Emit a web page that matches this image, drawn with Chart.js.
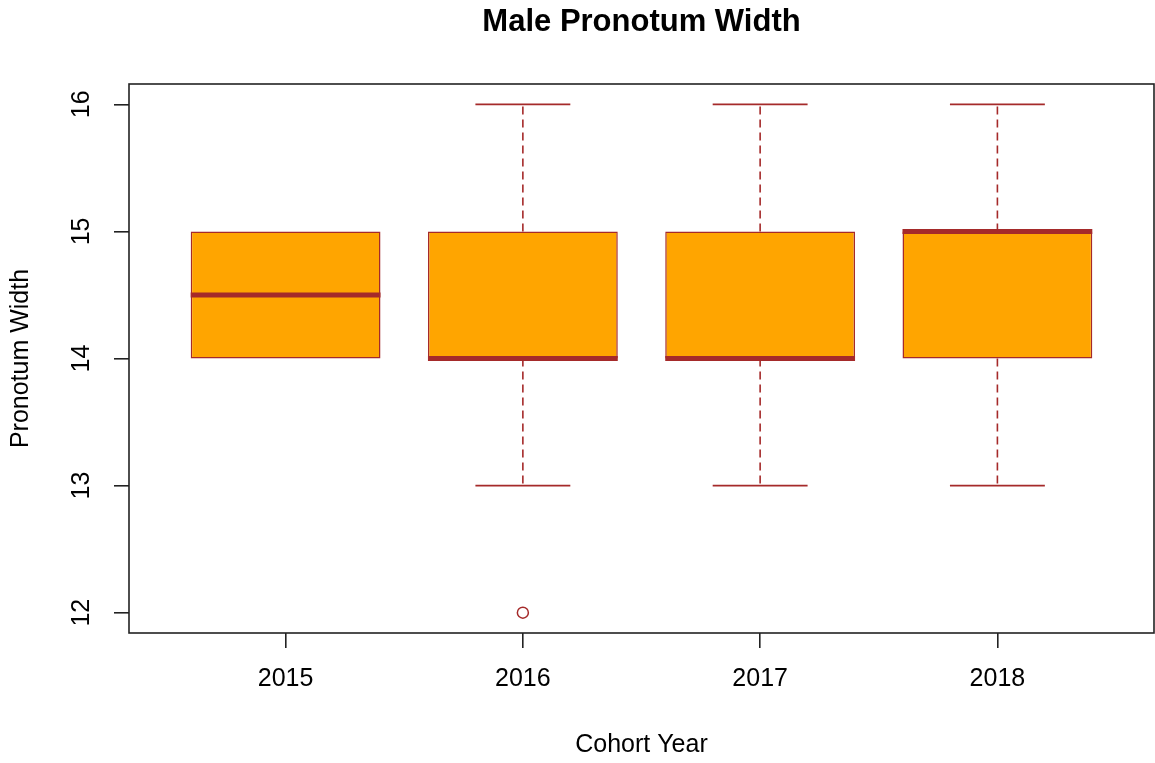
<!DOCTYPE html>
<html>
<head>
<meta charset="utf-8">
<title>Male Pronotum Width</title>
<script src="https://cdn.jsdelivr.net/npm/chart.js@4/dist/chart.umd.min.js"></script>
<style>
  html, body { margin: 0; padding: 0; background: #ffffff; }
  canvas { display: block; }
</style>
</head>
<body>
<canvas id="chart" width="1155" height="763"></canvas>
<script>
// Five-number summaries of male pronotum width per cohort year
const years = ['2015', '2016', '2017', '2018'];
const whiskerLow  = [14, 13, 13, 13];
const lowerQuart  = [14, 14, 14, 14];
const medians     = [14.5, 14, 14, 15];
const upperQuart  = [15, 15, 15, 15];
const whiskerHigh = [15, 16, 16, 16];

// Points beyond the whiskers
const outlierYears  = ['2016'];
const outlierValues = [12];

const yTicks = [12, 13, 14, 15, 16];

const BROWN = '#A52A2A';
const ORANGE = '#FFA500';
const FONT = "'Liberation Sans', Arial, Helvetica, sans-serif";

function boxGeometry(chart, i) {
  const bar = chart.getDatasetMeta(0).data[i];
  return { cx: bar.x, half: bar.width / 2, staple: bar.width / 4 };
}

// Dashed whiskers and staples go under the boxes, medians over them
const boxExtras = {
  id: 'boxExtras',
  beforeDatasetsDraw(chart) {
    const ctx = chart.ctx;
    const ys = chart.scales.y;
    ctx.save();
    ctx.strokeStyle = BROWN;
    ctx.lineWidth = 1.6;
    ctx.lineCap = 'butt';
    years.forEach((_, i) => {
      const { cx, staple } = boxGeometry(chart, i);
      const yQ1 = ys.getPixelForValue(lowerQuart[i]);
      const yQ3 = ys.getPixelForValue(upperQuart[i]);
      const yLo = ys.getPixelForValue(whiskerLow[i]);
      const yHi = ys.getPixelForValue(whiskerHigh[i]);
      const hasHigh = whiskerHigh[i] > upperQuart[i];
      const hasLow = whiskerLow[i] < lowerQuart[i];

      ctx.setLineDash([8, 5]);
      ctx.beginPath();
      if (hasHigh) { ctx.moveTo(cx, yQ3); ctx.lineTo(cx, yHi); }
      if (hasLow) { ctx.moveTo(cx, yQ1); ctx.lineTo(cx, yLo); }
      ctx.stroke();

      ctx.setLineDash([]);
      ctx.beginPath();
      if (hasHigh) { ctx.moveTo(cx - staple, yHi); ctx.lineTo(cx + staple, yHi); }
      if (hasLow) { ctx.moveTo(cx - staple, yLo); ctx.lineTo(cx + staple, yLo); }
      ctx.stroke();
    });
    ctx.restore();
  },
  afterDatasetsDraw(chart) {
    const ctx = chart.ctx;
    const ys = chart.scales.y;
    ctx.save();
    ctx.strokeStyle = BROWN;
    ctx.lineWidth = 5;
    ctx.lineCap = 'butt';
    years.forEach((_, i) => {
      const { cx, half } = boxGeometry(chart, i);
      const yMed = ys.getPixelForValue(medians[i]);
      ctx.beginPath();
      ctx.moveTo(cx - half, yMed); ctx.lineTo(cx + half, yMed);
      ctx.stroke();
    });
    ctx.restore();
  }
};

// Full frame round the plotting region
const frame = {
  id: 'frame',
  afterDraw(chart) {
    const {left, top, right, bottom} = chart.chartArea;
    const ctx = chart.ctx;
    ctx.save();
    ctx.strokeStyle = '#222222';
    ctx.lineWidth = 1.6;
    ctx.strokeRect(left, top, right - left, bottom - top);
    ctx.restore();
  }
};

function noEdgePadding(scale) {
  scale.paddingLeft = 0;
  scale.paddingRight = 0;
  scale.paddingTop = 0;
  scale.paddingBottom = 0;
}

new Chart(document.getElementById('chart'), {
  data: {
    datasets: [
      {
        type: 'bar',
        label: 'Interquartile range',
        data: years.map((y, i) => ({ x: i + 1, y: [lowerQuart[i], upperQuart[i]] })),
        backgroundColor: ORANGE,
        borderColor: BROWN,
        borderWidth: 1.5,
        borderSkipped: false,
        barPercentage: 0.8,
        categoryPercentage: 1.0,
        order: 2
      },
      {
        type: 'scatter',
        label: 'Outliers',
        data: outlierYears.map((y, i) => ({ x: years.indexOf(y) + 1, y: outlierValues[i] })),
        pointStyle: 'circle',
        pointRadius: 5.5,
        pointHoverRadius: 5.5,
        pointBorderWidth: 1.5,
        pointBorderColor: BROWN,
        pointBackgroundColor: 'rgba(0,0,0,0)',
        order: 1
      }
    ]
  },
  options: {
    responsive: false,
    animation: false,
    devicePixelRatio: 1,
    layout: { autoPadding: false, padding: { left: 0, right: 1, top: 0, bottom: 0 } },
    plugins: {
      legend: { display: false },
      tooltip: { enabled: false },
      title: {
        display: true,
        fullSize: false,
        text: 'Male Pronotum Width',
        color: '#000000',
        font: { family: FONT, size: 31, weight: 'bold', lineHeight: 1.2 },
        padding: { top: 4, bottom: 42.8 }
      }
    },
    scales: {
      x: {
        type: 'linear',
        min: 0.34,
        max: 4.66,
        offset: false,
        afterBuildTicks(scale) {
          scale.ticks = years.map((_, i) => ({ value: i + 1 }));
        },
        afterFit(scale) { scale.height = 130; noEdgePadding(scale); },
        ticks: {
          color: '#000000',
          font: { family: FONT, size: 25 },
          padding: 16,
          maxRotation: 0,
          autoSkip: false,
          callback: (v) => years[v - 1]
        },
        grid: {
          offset: false,
          drawOnChartArea: false,
          drawTicks: true,
          tickLength: 15,
          color: '#222222',
          lineWidth: 1.6
        },
        border: { display: false },
        title: {
          display: true,
          text: 'Cohort Year',
          color: '#000000',
          font: { family: FONT, size: 25, lineHeight: 1.2 },
          padding: { top: 0, bottom: 2.5 }
        }
      },
      y: {
        type: 'linear',
        min: 11.84,
        max: 16.16,
        afterBuildTicks(scale) {
          scale.ticks = yTicks.map(v => ({ value: v }));
        },
        afterFit(scale) { scale.width = 129; noEdgePadding(scale); },
        ticks: {
          color: '#000000',
          font: { family: FONT, size: 25 },
          padding: 17.5,
          minRotation: 90,
          maxRotation: 90,
          crossAlign: 'center',
          autoSkip: false,
          callback: (v) => String(v)
        },
        grid: {
          drawOnChartArea: false,
          drawTicks: true,
          tickLength: 15,
          color: '#222222',
          lineWidth: 1.6
        },
        border: { display: false },
        title: {
          display: true,
          text: 'Pronotum Width',
          color: '#000000',
          font: { family: FONT, size: 25, lineHeight: 1.2 },
          padding: { top: 6.5, bottom: 0 }
        }
      }
    }
  },
  plugins: [boxExtras, frame]
});
</script>
</body>
</html>
